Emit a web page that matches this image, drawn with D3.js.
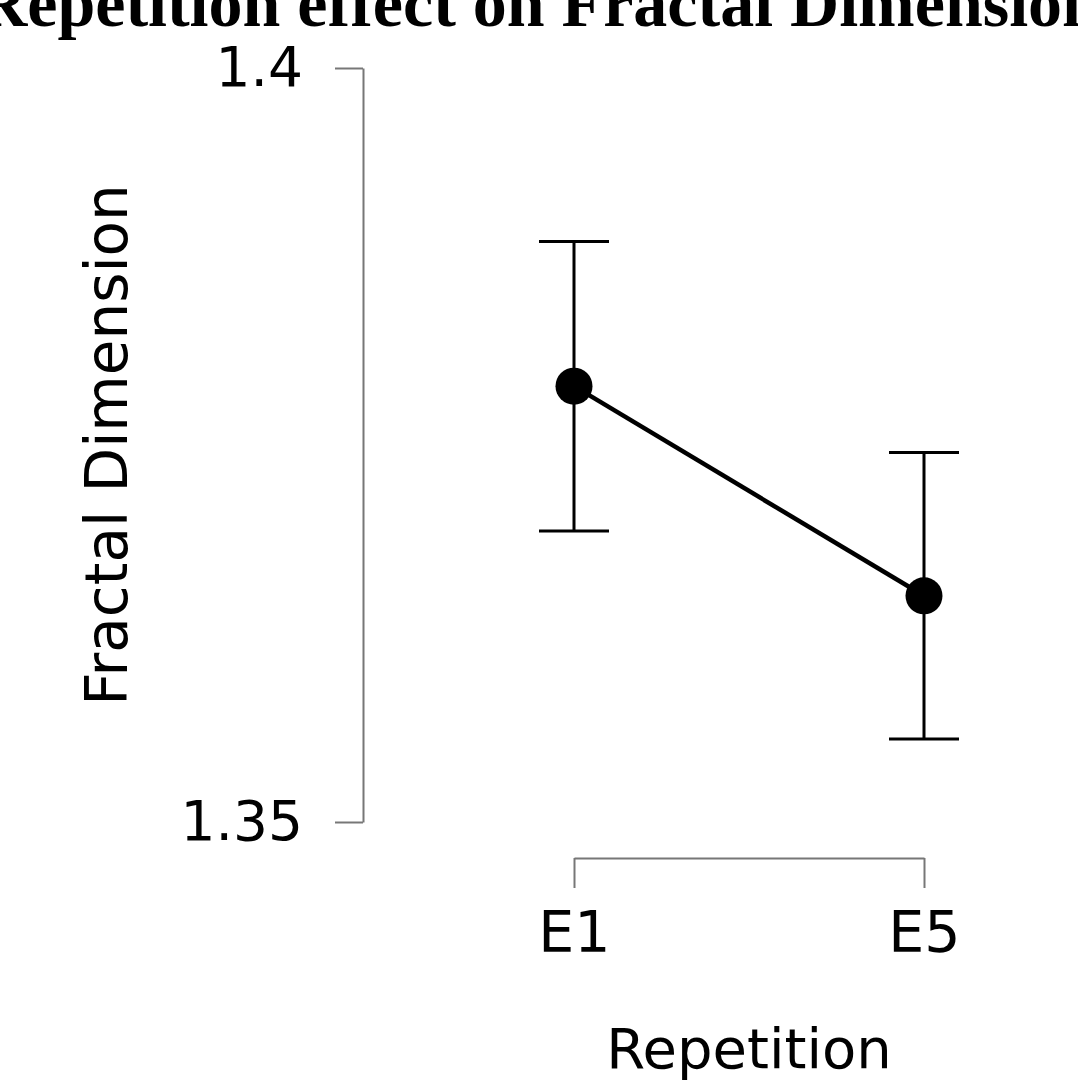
<!DOCTYPE html>
<html>
  <head>
    <meta charset="utf-8">
    <title>Repetition effect on Fractal Dimension</title>
    <script src="https://d3js.org/d3.v7.min.js"></script>
    <style>
      body { margin: 0; background: #fff; }
    </style>
  </head>
  <body>
    <script>
      // data
      var categories = ["E1", "E5"];
      var means = [1.3789, 1.3650];
      var upper = [1.3885, 1.3745];
      var lower = [1.3693, 1.3555];
      var yTicks = [1.35, 1.4];

      var width = 1078, height = 1081;

      var svg = d3.select("body")
                  .append("svg")
                  .attr("width", width)
                  .attr("height", height);

      var x = d3.scalePoint()
                .domain(categories)
                .range([574, 924]);

      var y = d3.scaleLinear()
                .domain([1.35, 1.4])
                .range([822, 68]);

      var sans = "DejaVu Sans, Verdana, sans-serif";

      // y axis (range frame)
      var yAxis = svg.append("g")
         .attr("transform", "translate(363,0)")
         .call(d3.axisLeft(y)
                 .tickValues(yTicks)
                 .tickSize(28)
                 .tickSizeOuter(0)
                 .tickPadding(32)
                 .tickFormat(d3.format("")));
      yAxis.selectAll("path, line").attr("stroke", "#777").attr("stroke-width", 2);
      yAxis.selectAll("text")
           .attr("fill", "#000")
           .style("font-family", sans)
           .style("font-size", "55px");

      // x axis
      var xAxis = svg.append("g")
         .attr("transform", "translate(0,858)")
         .call(d3.axisBottom(x)
                 .tickSize(30)
                 .tickSizeOuter(0)
                 .tickPadding(24));
      xAxis.selectAll("path, line").attr("stroke", "#777").attr("stroke-width", 2);
      xAxis.selectAll("text")
           .attr("fill", "#000")
           .style("font-family", sans)
           .style("font-size", "57px");

      var rows = categories.map(function(c, i) {
        return { cat: c, mean: means[i], hi: upper[i], lo: lower[i] };
      });

      // error bars
      var eb = svg.append("g").attr("stroke", "#000").attr("stroke-width", 3);
      eb.selectAll(".stem")
        .data(rows).enter().append("line")
        .attr("x1", function(d) { return x(d.cat); })
        .attr("x2", function(d) { return x(d.cat); })
        .attr("y1", function(d) { return y(d.hi); })
        .attr("y2", function(d) { return y(d.lo); });
      eb.selectAll(".capHi")
        .data(rows).enter().append("line")
        .attr("x1", function(d) { return x(d.cat) - 35; })
        .attr("x2", function(d) { return x(d.cat) + 35; })
        .attr("y1", function(d) { return y(d.hi); })
        .attr("y2", function(d) { return y(d.hi); });
      eb.selectAll(".capLo")
        .data(rows).enter().append("line")
        .attr("x1", function(d) { return x(d.cat) - 35; })
        .attr("x2", function(d) { return x(d.cat) + 35; })
        .attr("y1", function(d) { return y(d.lo); })
        .attr("y2", function(d) { return y(d.lo); });

      // connecting line
      svg.append("path")
         .datum(rows)
         .attr("fill", "none")
         .attr("stroke", "#000")
         .attr("stroke-width", 4.5)
         .attr("d", d3.line()
                      .x(function(d) { return x(d.cat); })
                      .y(function(d) { return y(d.mean); }));

      // points
      svg.selectAll(".pt")
         .data(rows).enter().append("circle")
         .attr("cx", function(d) { return x(d.cat); })
         .attr("cy", function(d) { return y(d.mean); })
         .attr("r", 18.5)
         .attr("fill", "#000");

      // axis titles
      svg.append("text")
         .attr("x", 749)
         .attr("y", 1068)
         .attr("text-anchor", "middle")
         .style("font-family", sans)
         .style("font-size", "56px")
         .text("Repetition");

      svg.append("text")
         .attr("transform", "translate(127,445) rotate(-90)")
         .attr("text-anchor", "middle")
         .style("font-family", sans)
         .style("font-size", "58px")
         .text("Fractal Dimension");

      // title (clipped at the top in the original)
      svg.append("text")
         .attr("x", 539)
         .attr("y", 26)
         .attr("text-anchor", "middle")
         .style("font-family", "Liberation Serif, Times New Roman, serif")
         .style("font-weight", "bold")
         .style("font-size", "68px")
         .text("Repetition effect on Fractal Dimension");
    </script>
  </body>
</html>
